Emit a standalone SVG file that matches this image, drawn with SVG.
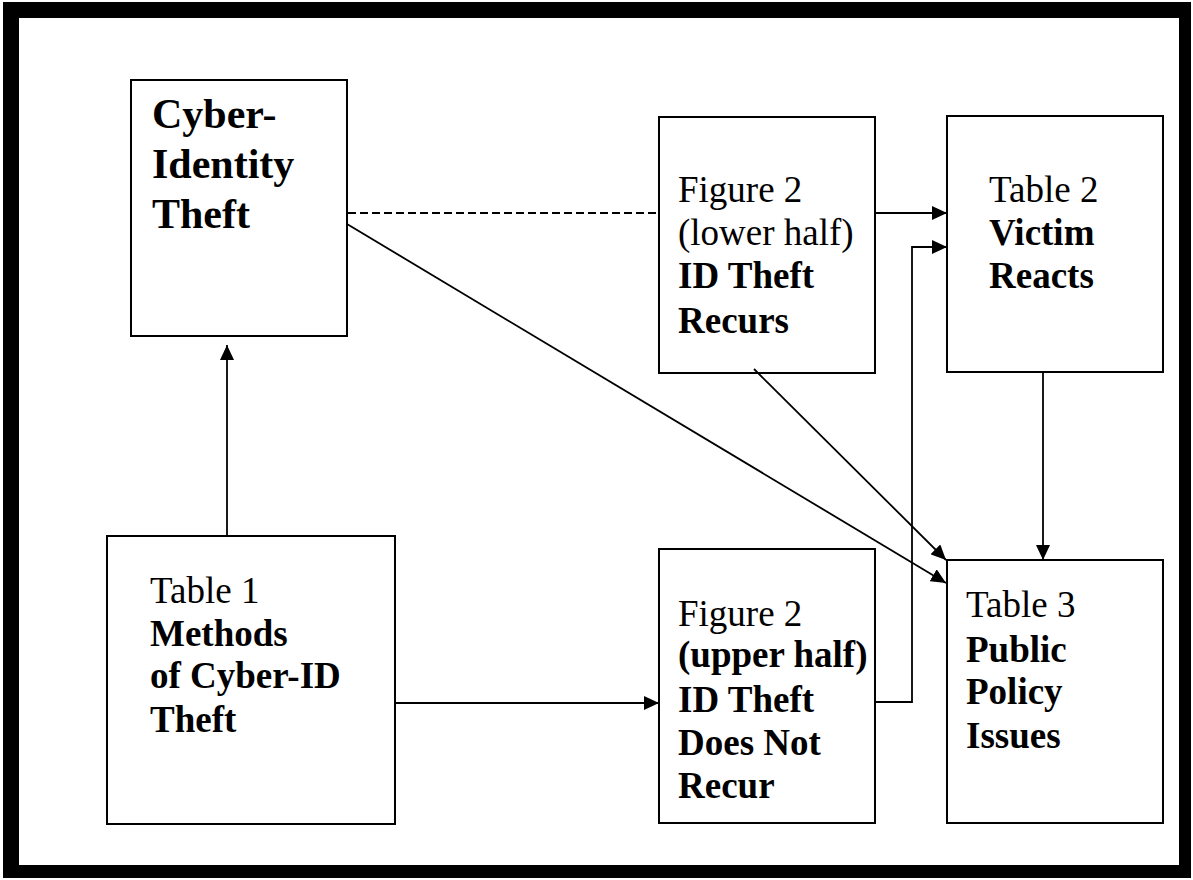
<svg xmlns="http://www.w3.org/2000/svg" width="1193" height="880" viewBox="0 0 1193 880">
<style>
.box{fill:#fff;stroke:#000;stroke-width:2}
.t{font-family:"Liberation Serif","Times New Roman",serif;font-size:37px;fill:#000}
.b{font-weight:bold}
.c{fill:none;stroke:#000;stroke-width:1.8}
.d{stroke-dasharray:8 4}
</style>
<defs>
<marker id="ah" markerUnits="userSpaceOnUse" markerWidth="15" markerHeight="14" refX="15" refY="7" orient="auto">
<path d="M0,0 L15,7 L0,14 z" fill="#000"/>
</marker>
</defs>
<rect x="3" y="2" width="1188" height="876" fill="#000"/>
<rect x="19" y="18" width="1160" height="847" fill="#fff"/>
<g id="cyber">
<rect class="box" x="131" y="80" width="216" height="256"/>
<text class="t b" x="152" y="128" style="font-size:42px">Cyber-</text>
<text class="t b" x="152" y="178" style="font-size:42px">Identity</text>
<text class="t b" x="152" y="228" style="font-size:42px">Theft</text>
</g>
<g id="fig2lower">
<rect class="box" x="659" y="117" width="216" height="256"/>
<text class="t" x="678" y="202">Figure 2</text>
<text class="t" x="678" y="245">(lower half)</text>
<text class="t b" x="678" y="288">ID Theft</text>
<text class="t b" x="678" y="333">Recurs</text>
</g>
<g id="victim">
<rect class="box" x="947" y="116" width="216" height="256"/>
<text class="t" x="989" y="202">Table 2</text>
<text class="t b" x="989" y="245">Victim</text>
<text class="t b" x="989" y="288">Reacts</text>
</g>
<g id="table1">
<rect class="box" x="107" y="536" width="288" height="288"/>
<text class="t" x="150" y="603">Table 1</text>
<text class="t b" x="150" y="646">Methods</text>
<text class="t b" x="150" y="688">of Cyber-ID</text>
<text class="t b" x="150" y="732">Theft</text>
</g>
<g id="fig2upper">
<rect class="box" x="659" y="549" width="216" height="274"/>
<text class="t" x="678" y="626">Figure 2</text>
<text class="t b" x="678" y="667">(upper half)</text>
<text class="t b" x="678" y="712">ID Theft</text>
<text class="t b" x="678" y="755">Does Not</text>
<text class="t b" x="678" y="798">Recur</text>
</g>
<g id="table3">
<rect class="box" x="947" y="560" width="216" height="263"/>
<text class="t" x="966" y="617">Table 3</text>
<text class="t b" x="966" y="662">Public</text>
<text class="t b" x="966" y="704">Policy</text>
<text class="t b" x="966" y="748">Issues</text>
</g>
<g id="connectors">
<line class="c d" x1="348" y1="213" x2="658" y2="213"/>
<line class="c" x1="347" y1="224" x2="946" y2="583" marker-end="url(#ah)"/>
<line class="c" x1="754" y1="369" x2="946" y2="560" marker-end="url(#ah)"/>
<line class="c" x1="875" y1="213" x2="947" y2="213" marker-end="url(#ah)"/>
<polyline class="c" points="875,702 912,702 912,247 947,247" marker-end="url(#ah)"/>
<line class="c" x1="1043" y1="372" x2="1043" y2="560" marker-end="url(#ah)"/>
<line class="c" x1="227" y1="536" x2="227" y2="345" marker-end="url(#ah)"/>
<line class="c" x1="395" y1="703" x2="659" y2="703" marker-end="url(#ah)"/>
</g>
</svg>
